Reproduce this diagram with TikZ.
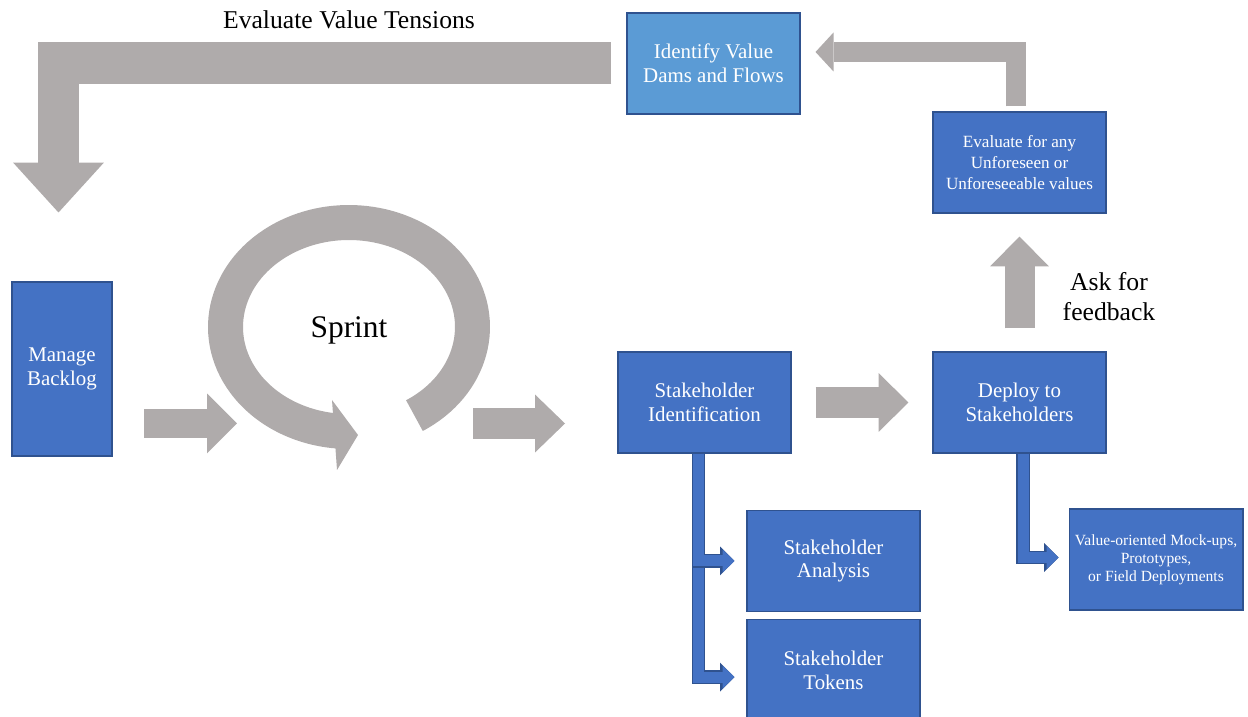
\documentclass[tikz,border=0pt]{standalone}
\usepackage{fontspec}
\setmainfont{Liberation Serif}
\usepackage{tikz}
\usetikzlibrary{shapes, arrows, calc, arrows.meta, fit, positioning}
\definecolor{boxblue}{HTML}{4472C4}
\definecolor{lightblue}{HTML}{5B9BD5}
\definecolor{edgeblue}{HTML}{2F528F}
\definecolor{arrowgray}{HTML}{AFABAB}
\tikzset{
    x=0.02cm, y=0.02cm, % one unit is one pixel of the sketch
    node distance = 0.14cm and 2.82cm, % gap between stacked boxes and between boxes in a row
    block/.style = {rectangle, draw=edgeblue, line width=0.6pt, fill=boxblue, text=white,
                    align=center, inner sep=0pt, minimum width=3.46cm, minimum height=2.02cm,
                    font=\fontsize{11.9}{13.6}\selectfont},
    lightblock/.style = {block, fill=lightblue},
    % wide grey arrow: #1 shaft width, #2 head width, #3 head length
    fat arrow/.style n args = {3}{draw=arrowgray, line width=#1, line join=miter,
                    -{Triangle[length=#3, width=#2, line width=0pt]}},
    % thin blue bent arrow with a dark rim
    blue link/.style = {draw=boxblue, line width=0.22cm, line join=miter,
                    -{Triangle[length=0.24cm, width=0.46cm, line width=0pt]},
                    preaction={draw=edgeblue, line width=0.27cm,
                    -{Triangle[length=0.29cm, width=0.58cm, line width=0pt]}}},
    caption/.style = {align=center, font=\fontsize{14.6}{17}\selectfont}
}
\begin{document}
\begin{tikzpicture}
\useasboundingbox (0,0) rectangle (1248,717);

% boxes
\node [block, minimum width=2cm, minimum height=3.48cm] (backlog) at (62,348) {Manage\\Backlog};
\node [block] (stkid) at (704.5,314.5) {Stakeholder\\Identification};
\node [block, right=of stkid] (deploy) {Deploy to\\Stakeholders};
\node [block, above=2.76cm of deploy, font=\fontsize{9.75}{11.9}\selectfont] (evaluate)
      {Evaluate for any\\Unforeseen or\\Unforeseeable values};
\node [lightblock] (identify) at (713.5,653.5) {Identify Value\\Dams and Flows};
\node [block] (analysis) at (833.5,156) {Stakeholder\\Analysis};
\node [block, below=of analysis] (tokens) {Stakeholder\\Tokens};
\node [block, minimum width=3.48cm, font=\fontsize{8.85}{10.2}\selectfont] (mockups) at (1156,157.5)
      {Value-oriented Mock-ups,\\Prototypes,\\or Field Deployments};

% free texts
\node [caption] (tensions) at (349,697) {Evaluate Value Tensions};
\node [font=\fontsize{17.9}{20}\selectfont] (sprint) at (349,387) {Sprint};
\node [caption] (ask) at (1109,420) {Ask for\\feedback};

% sprint loop
\coordinate (loopc) at (349,390);
\draw [arrowgray, line width=0.7cm] ($(loopc)+(-58:2.47cm and 2.09cm)$)
      arc [start angle=-58, end angle=266, x radius=2.47cm, y radius=2.09cm];
\fill [arrowgray] (332,317) -- (337,247) -- (358,282) -- cycle;

% grey arrows
\coordinate (in1) at (144,293.5);
\coordinate (in2) at (237,293.5);
\coordinate (out1) at (473,293.5);
\coordinate (out2) at (565,293.5);
\draw [fat arrow={0.58cm}{1.2cm}{0.6cm}] (in1) -- (in2);
\draw [fat arrow={0.62cm}{1.16cm}{0.6cm}] (out1) -- (out2);
\draw [fat arrow={0.62cm}{1.18cm}{0.6cm}] ([xshift=0.48cm]stkid.east) -- ([xshift=-0.48cm]deploy.west);
\draw [fat arrow={0.6cm}{1.18cm}{0.6cm}] ([yshift=0.46cm]deploy.north) -- ([yshift=-0.46cm]evaluate.south);
\draw [fat arrow={0.4cm}{0.78cm}{0.36cm}] ([shift={(-0.07cm,0.1cm)}]evaluate.north)
      |- ([shift={(0.3cm,0.23cm)}]identify.east);
\draw [fat arrow={0.84cm}{1.82cm}{1cm}] ([xshift=-0.3cm]identify.west)
      -| ([shift={(-0.07cm,1.38cm)}]backlog.north);

% blue branches
\draw [blue link] ([xshift=-0.12cm]stkid.south) |- ([shift={(-0.24cm,-0.14cm)}]tokens.west);
\draw [blue link] ([xshift=-0.12cm]stkid.south) |- ([xshift=-0.24cm]analysis.west);
\draw [blue link] ([xshift=0.07cm]deploy.south) |- ([shift={(-0.2cm,0.04cm)}]mockups.west);
\end{tikzpicture}
\end{document}
